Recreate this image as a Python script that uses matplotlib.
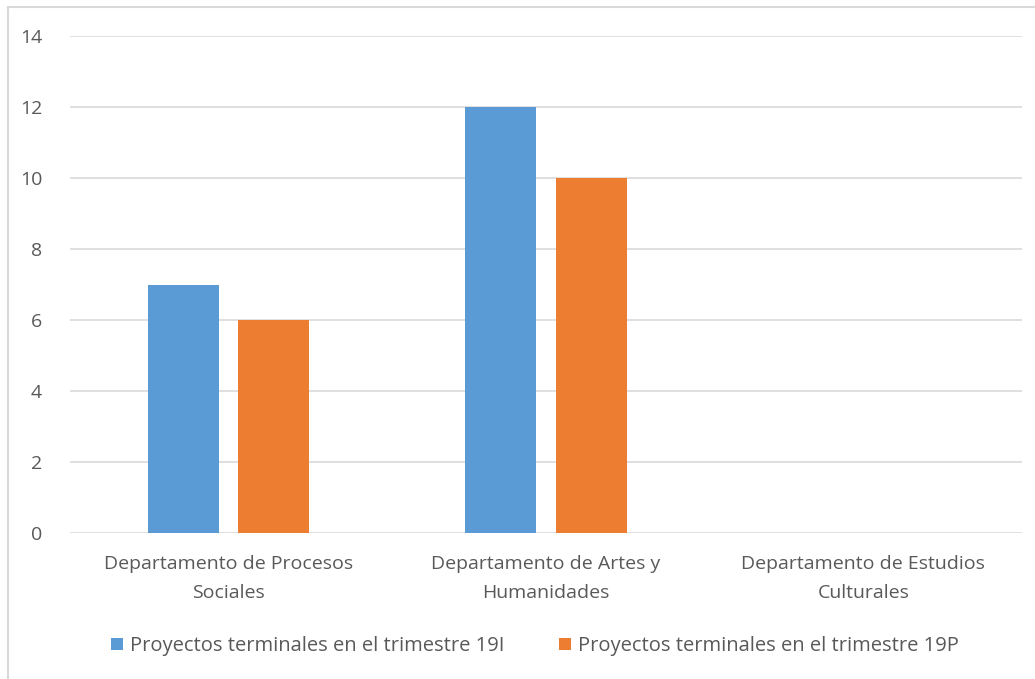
import matplotlib.pyplot as plt
import matplotlib.patches as patches
import numpy as np

plt.rcParams['font.family'] = ['Open Sans', 'DejaVu Sans']

# datos
categorias = ['Departamento de Procesos\nSociales',
              'Departamento de Artes y\nHumanidades',
              'Departamento de Estudios\nCulturales']
serie_19i = [7, 12, 0]
serie_19p = [6, 10, 0]
etiquetas = ['Proyectos terminales en el trimestre 19I',
             'Proyectos terminales en el trimestre 19P']
yticks = [0, 2, 4, 6, 8, 10, 12, 14]

azul = '#5B9BD5'
naranja = '#ED7D31'
gris_texto = '#595959'
gris_linea = '#D9D9D9'

fig = plt.figure(figsize=(10.35, 6.79), dpi=100)
ax = fig.add_axes([70 / 1035, 1 - 533 / 679, 952 / 1035, 497 / 679])

x = np.arange(len(categorias))
ancho = 0.224
ax.bar(x - 0.142, serie_19i, ancho, color=azul, label=etiquetas[0], zorder=3)
ax.bar(x + 0.142, serie_19p, ancho, color=naranja, label=etiquetas[1], zorder=3)

ax.set_xlim(-0.5, 2.5)
ax.set_ylim(0, 14)
ax.set_yticks(yticks)
ax.set_xticks(x)
ax.set_xticklabels(categorias, linespacing=1.75)
ax.tick_params(axis='both', length=0, colors=gris_texto, labelsize=14)
ax.tick_params(axis='y', pad=20)
ax.tick_params(axis='x', pad=16)
ax.grid(axis='y', color=gris_linea, linewidth=1.2, zorder=0)
for s in ax.spines.values():
    s.set_visible(False)

fig.legend(loc='center', bbox_to_anchor=(535 / 1035, 1 - 646 / 679), ncol=2,
           frameon=False, fontsize=14.5, labelcolor=gris_texto,
           handlelength=0.6, handleheight=0.6, handletextpad=0.35,
           columnspacing=2.7)

# borde del gráfico
borde = patches.Rectangle((8 / 1035, -0.05), 1.1, 1 - 7 / 679 + 0.05,
                          transform=fig.transFigure, fill=False,
                          edgecolor=gris_linea, linewidth=1.5)
fig.add_artist(borde)

plt.savefig('out.png', dpi=100)
